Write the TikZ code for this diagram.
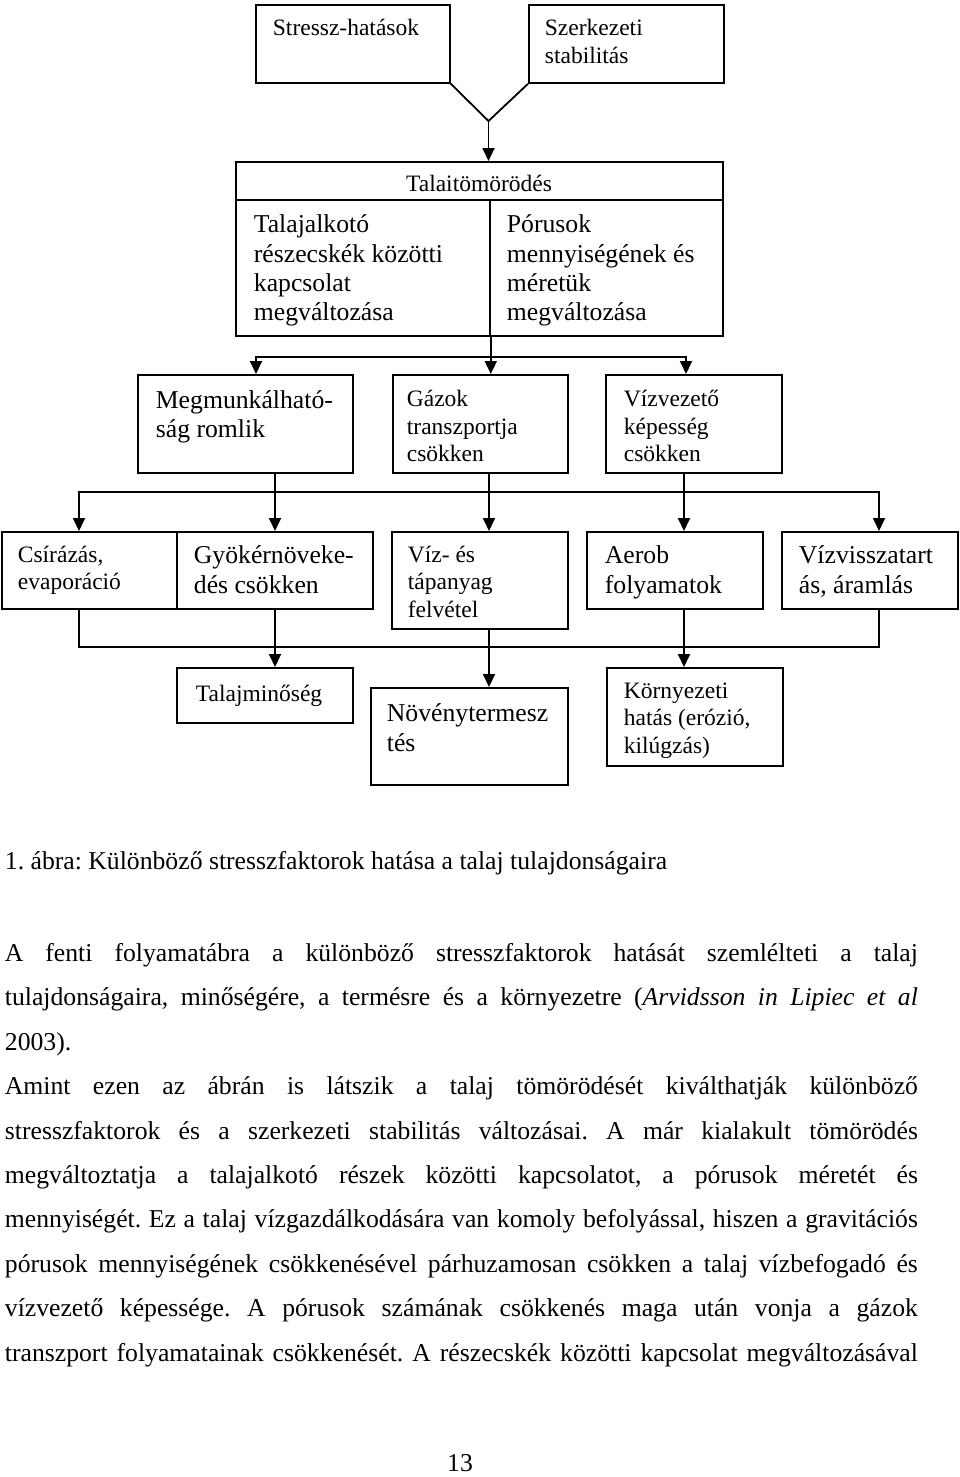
\documentclass[tikz,border=0pt]{standalone}
\usepackage{fontspec}
\setmainfont{Liberation Serif}
\usetikzlibrary{arrows.meta}
\newcommand\fA{\fontsize{23.5pt}{27.3pt}\selectfont}
\newcommand\fB{\fontsize{25.7pt}{29.4pt}\selectfont}
\newcommand\fbody{\fontsize{25.7pt}{44.4pt}\selectfont}
\newcommand\tstrut{\rule{0pt}{24pt}}
\frenchspacing
\begin{document}
\begin{tikzpicture}[x=1pt,y=-1pt,
  line width=1.8pt,
  box/.style={draw, line width=1.8pt, inner sep=0pt, anchor=north west},
  lbl/.style={anchor=north west, inner sep=0pt, align=left},
  arr/.style={-{Triangle[length=13pt,width=12pt]}},
  bline/.style={anchor=base west, inner sep=0pt, font=\fbody}]
\useasboundingbox (0,0) rectangle (960,1477);
% ---- boxes ----
\node[box, minimum width=194pt, minimum height=78pt] (s1) at (255,4) {};
\node[box, minimum width=195pt, minimum height=78pt] (s2) at (528,4) {};
\node[box, minimum width=487pt, minimum height=38pt] (ttop) at (235,161) {};
\node[box, minimum width=254pt, minimum height=136pt] (tleft) at (235,199) {};
\node[box, minimum width=233pt, minimum height=136pt] (tright) at (489,199) {};
\node[box, minimum width=215pt, minimum height=98pt] (r3a) at (137,374) {};
\node[box, minimum width=175pt, minimum height=98pt] (r3b) at (392,374) {};
\node[box, minimum width=176pt, minimum height=98pt] (r3c) at (605,374) {};
\node[box, minimum width=175pt, minimum height=77pt] (c1) at (1,531) {};
\node[box, minimum width=196pt, minimum height=77pt] (c2) at (176,531) {};
\node[box, minimum width=176pt, minimum height=97pt] (c3) at (391,531) {};
\node[box, minimum width=176pt, minimum height=77pt] (c4) at (586,531) {};
\node[box, minimum width=176pt, minimum height=77pt] (c5) at (781,531) {};
\node[box, minimum width=176pt, minimum height=55pt] (d1) at (176,667) {};
\node[box, minimum width=197pt, minimum height=97pt] (d2) at (370,687) {};
\node[box, minimum width=176pt, minimum height=98pt] (d3) at (606,667) {};
% ---- box texts ----
\node[lbl, font=\fA] (s1t) at (272,11) {\tstrut Stressz-hatások};
\node[lbl, font=\fA] (s2t) at (544,11) {\tstrut Szerkezeti\\stabilitás};
\node[anchor=base, inner sep=0pt, font=\fA] (ttopt) at (479,191) {Talaitömörödés};
\node[lbl, font=\fB] (tleftt) at (253,207.7) {\tstrut Talajalkotó\\részecskék közötti\\kapcsolat\\megváltozása};
\node[lbl, font=\fB] (trightt) at (506,207.7) {\tstrut Pórusok\\mennyiségének és\\méretük\\megváltozása};
\node[lbl, font=\fB] (r3at) at (155,383.3) {\tstrut Megmunkálható-\\ság romlik};
\node[lbl, font=\fA] (r3bt) at (406,382) {\tstrut Gázok\\transzportja\\csökken};
\node[lbl, font=\fA] (r3ct) at (623,382) {\tstrut Vízvezető\\képesség\\csökken};
\node[lbl, font=\fA] (c1t) at (17,537.7) {\tstrut Csírázás,\\evaporáció};
\node[lbl, font=\fB] (c2t) at (193,539) {\tstrut Gyökérnöveke-\\dés csökken};
\node[lbl, font=\fA] (c3t) at (407,537.7) {\tstrut Víz- és\\tápanyag\\felvétel};
\node[lbl, font=\fB] (c4t) at (604,539) {\tstrut Aerob\\folyamatok};
\node[lbl, font=\fB] (c5t) at (798,539) {\tstrut Vízvisszatart\\ás, áramlás};
\node[lbl, font=\fA] (d1t) at (195,676.7) {\tstrut Talajminőség};
\node[lbl, font=\fB] (d2t) at (386,697) {\tstrut Növénytermesz\\tés};
\node[lbl, font=\fA] (d3t) at (623,673.7) {\tstrut Környezeti\\hatás (erózió,\\kilúgzás)};
% ---- connectors ----
\coordinate (m1) at (488.5,121);
\draw (s1.south east) -- (m1) -- (s2.south west);
\draw[arr] (m1) -- (m1 |- ttop.north);
\coordinate (b1L) at (256,357);
\coordinate (b1R) at (686,357);
\draw[arr] (tleft.south east) -- (tleft.south east |- r3b.north);
\draw[arr] (tleft.south east |- b1L) -- (b1L) -- (b1L |- r3a.north);
\draw[arr] (tleft.south east |- b1L) -- (b1R) -- (b1R |- r3c.north);
\coordinate (xa) at (79,492);
\coordinate (xb) at (275,492);
\coordinate (xc) at (489,492);
\coordinate (xd) at (684,492);
\coordinate (xe) at (879,492);
\draw[arr] (xb |- r3a.south) -- (xb |- c2.north);
\draw[arr] (xc |- r3b.south) -- (xc |- c3.north);
\draw[arr] (xd |- r3c.south) -- (xd |- c4.north);
\draw[arr] (xb) -- (xa) -- (xa |- c1.north);
\draw[arr] (xd) -- (xe) -- (xe |- c5.north);
\draw (xb) -- (xd);
\coordinate (ya) at (79,647);
\coordinate (ye) at (879,647);
\draw (xa |- c1.south) -- (ya) -- (ye) -- (xe |- c5.south);
\draw[arr] (xb |- c2.south) -- (xb |- d1.north);
\draw[arr] (xc |- c3.south) -- (xc |- d2.north);
\draw[arr] (xd |- c4.south) -- (xd |- d3.north);
% ---- caption and body text ----
\node[bline] (cap) at (4,869) {1. ábra: Különböző stresszfaktorok hatása a talaj tulajdonságaira};
\node[bline] (l1) at (4,961.5) {\hbox to 913pt{A fenti folyamatábra a különböző stresszfaktorok hatását szemlélteti a talaj}};
\node[bline] (l2) at (4,1005.9) {\hbox to 913pt{tulajdonságaira, minőségére, a termésre és a környezetre (\textit{Arvidsson in Lipiec et al}}};
\node[bline] (l3) at (4,1050.3) {2003).};
\node[bline] (l4) at (4,1094.7) {\hbox to 913pt{Amint ezen az ábrán is látszik a talaj tömörödését kiválthatják különböző}};
\node[bline] (l5) at (4,1139.1) {\hbox to 913pt{stresszfaktorok és a szerkezeti stabilitás változásai. A már kialakult tömörödés}};
\node[bline] (l6) at (4,1183.5) {\hbox to 913pt{megváltoztatja a talajalkotó részek közötti kapcsolatot, a pórusok méretét és}};
\node[bline] (l7) at (4,1227.9) {\hbox to 913pt{mennyiségét. Ez a talaj vízgazdálkodására van komoly befolyással, hiszen a gravitációs}};
\node[bline] (l8) at (4,1272.3) {\hbox to 913pt{pórusok mennyiségének csökkenésével párhuzamosan csökken a talaj vízbefogadó és}};
\node[bline] (l9) at (4,1316.7) {\hbox to 913pt{vízvezető képessége. A pórusok számának csökkenés maga után vonja a gázok}};
\node[bline] (l10) at (4,1361.1) {\hbox to 913pt{transzport folyamatainak csökkenését. A részecskék közötti kapcsolat megváltozásával}};
\node[anchor=base, inner sep=0pt, font=\fB] (pg) at (460,1471) {13};
\end{tikzpicture}
\end{document}
